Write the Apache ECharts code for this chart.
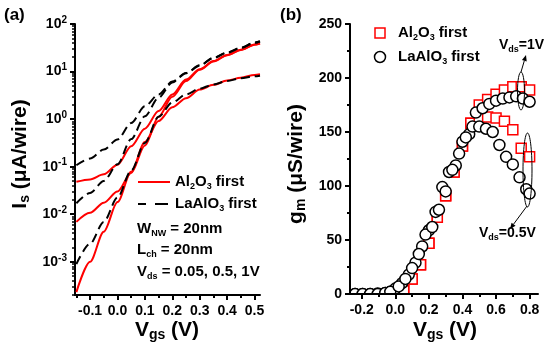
<!DOCTYPE html>
<html>
<head>
<meta charset="utf-8">
<script src="https://cdn.jsdelivr.net/npm/echarts@6/dist/echarts.min.js"></script>
<style>
  html, body { margin: 0; padding: 0; background: #fff; }
  #chart { width: 546px; height: 345px; }
</style>
</head>
<body>
<div id="chart"></div>
<script>
// ---- panel (a): Is vs Vgs, uA/wire (Vds = 1, 0.5, 0.05 V)
const vgsA = [-0.15, -0.1, -0.05, 0, 0.05, 0.1, 0.15, 0.2, 0.25, 0.3, 0.35, 0.4, 0.45, 0.5, 0.52];
const isAl1 = [0.048, 0.054, 0.069, 0.11, 0.27, 0.63, 1.48, 3.3, 6.8, 11.2, 16.6, 22.4, 28.8, 37.2, 39.5];
const isAl05 = [0.0069, 0.0107, 0.0174, 0.030, 0.074, 0.28, 1.12, 2.95, 6.3, 10.9, 16.2, 22.0, 28.5, 36.8, 39.0];
const isAl005 = [0.00023, 0.0010, 0.0043, 0.018, 0.078, 0.33, 0.91, 1.78, 2.75, 4.17, 5.25, 6.46, 7.41, 8.51, 8.8];
const isLa1 = [0.107, 0.148, 0.229, 0.372, 0.83, 1.86, 3.31, 6.17, 9.33, 13.5, 19.5, 25.1, 31.6, 40.7, 43.5];
const isLa05 = [0.017, 0.028, 0.050, 0.112, 0.38, 1.15, 2.82, 5.89, 9.2, 13.3, 19.3, 24.9, 31.4, 40.4, 43.0];
const isLa005 = [0.00089, 0.0024, 0.0069, 0.0224, 0.083, 0.316, 1.12, 2.24, 3.31, 4.37, 5.37, 6.31, 7.24, 7.94, 8.2];

const xMajorA = [-0.1, 0, 0.1, 0.2, 0.3, 0.4, 0.5];
const xMinorA = [-0.15, -0.05, 0.05, 0.15, 0.25, 0.35, 0.45];
const yMajorA = [0.001, 0.01, 0.1, 1, 10, 100];

// ---- panel (b): gm vs Vgs, uS/wire
const vgsSq = [0.05, 0.1, 0.15, 0.2, 0.25, 0.3, 0.35, 0.4, 0.45, 0.5, 0.55, 0.6, 0.65, 0.7, 0.75, 0.8];
const gmAl1 = [3, 14, 27, 47, 71, 91, 113, 137, 158, 175, 180, 185, 189, 192, 192, 189];
const gmAl05 = [3, 14, 27, 47, 71, 91, 113, 137, 158, 163, 164, 163, 160, 152, 135, 127];
const vgsLa1 = [-0.24, -0.195, -0.15, -0.105, -0.06, -0.03, 0, 0.04, 0.08, 0.12, 0.16, 0.2, 0.24, 0.28,
  0.32, 0.36, 0.4, 0.44, 0.48, 0.52, 0.56, 0.6, 0.64, 0.68, 0.72, 0.76, 0.8];
const gmLa1 = [0, 0, 0, 0.5, 1, 2, 5, 10, 18, 29, 44, 59, 76, 99, 113, 119, 141, 148, 168, 172, 176, 179,
  181, 182, 183, 181, 178];
const vgsLa05 = [-0.24, -0.195, -0.15, -0.105, -0.06, -0.03, 0.02, 0.06, 0.1, 0.14, 0.18, 0.22, 0.26, 0.3,
  0.34, 0.38, 0.42, 0.46, 0.5, 0.54, 0.58, 0.62, 0.66, 0.7, 0.74, 0.78, 0.8];
const gmLa05 = [0, 0, 0, 0, 1, 2, 7, 14, 24, 37, 55, 62, 78, 95, 115, 130, 145, 155, 155, 153, 150, 138,
  127, 120, 108, 97, 93];

const xMajorB = [-0.2, 0, 0.2, 0.4, 0.6, 0.8];
const xMinorB = [-0.1, 0.1, 0.3, 0.5, 0.7];

const FONT = '"Liberation Sans", Arial, sans-serif';
const RED = '#ff0000';

// minor log ticks 2..9 x 10^n
const yMinorA = [];
for (let n = -4; n <= 1; n++) {
  for (let k = 2; k <= 9; k++) yMinorA.push(k * Math.pow(10, n));
}

const pairs = (xs, ys) => xs.map((x, i) => [x, ys[i]]);

function lineSeries(name, ys, dashed) {
  return {
    name,
    type: 'line',
    xAxisIndex: 0,
    yAxisIndex: 0,
    data: pairs(vgsA, ys),
    showSymbol: false,
    smooth: 0.3,
    smoothMonotone: 'x',
    lineStyle: dashed
      ? { color: '#000', width: 2, type: [9, 5] }
      : { color: RED, width: 2 },
    z: dashed ? 3 : 2,
  };
}

function scatterSeries(xs, ys, square) {
  return {
    type: 'scatter',
    xAxisIndex: 2,
    yAxisIndex: 2,
    data: pairs(xs, ys),
    symbol: square ? 'rect' : 'circle',
    symbolSize: square ? 10 : 11,
    itemStyle: {
      color: '#fff',
      borderColor: square ? RED : '#000',
      borderWidth: 1.5,
      opacity: 1,
    },
    z: square ? 2 : 3,
    clip: true,
  };
}

// rich text pieces: {n|normal} {s|sub}
function richSet(size, lh, subSize, subLh) {
  return {
    n: { fontFamily: FONT, fontWeight: 'bold', fontSize: size, lineHeight: lh, fill: '#000' },
    s: { fontFamily: FONT, fontWeight: 'bold', fontSize: subSize, lineHeight: subLh, verticalAlign: 'bottom', fill: '#000' },
  };
}

function label(x, y, text, rich, align, rotation) {
  return {
    type: 'text',
    x, y,
    rotation: rotation || 0,
    style: {
      text, rich,
      align: align || 'left', verticalAlign: 'middle',
      textAlign: align || 'left', textVerticalAlign: 'middle',
    },
    z: 10,
  };
}

function arrow(x1, y1, x2, y2) {
  const dx = x2 - x1, dy = y2 - y1;
  const len = Math.sqrt(dx * dx + dy * dy);
  const ux = dx / len, uy = dy / len;
  const bx = x2 - ux * 6, by = y2 - uy * 6;
  return [
    { type: 'line', shape: { x1, y1, x2: bx, y2: by }, style: { stroke: '#000', lineWidth: 1 }, z: 10 },
    {
      type: 'polygon',
      shape: { points: [[x2, y2], [bx - uy * 2.5, by + ux * 2.5], [bx + uy * 2.5, by - ux * 2.5]] },
      style: { fill: '#000' },
      z: 10,
    },
  ];
}

const axisLabelStyle = { fontFamily: FONT, fontWeight: 'bold', fontSize: 14, color: '#000' };
const axisLineStyle = { show: true, onZero: false, lineStyle: { color: '#000', width: 2 } };
const noLine = { show: false, onZero: false };

const legendRich = richSet(15, 18, 9, 7);
const titleRich = richSet(21, 24, 14, 5);
const smallRich = richSet(14, 18, 9, 7);
const tagRich = richSet(17, 20, 9, 7);

const chart = echarts.init(document.getElementById('chart'), null, { renderer: 'canvas' });

chart.setOption({
  animation: false,
  backgroundColor: '#fff',
  grid: [
    { left: 75, top: 24, width: 185, height: 271 },
    { left: 350, top: 24, width: 188, height: 270 },
  ],
  xAxis: [
    {
      gridIndex: 0, type: 'value', min: -0.155, max: 0.52, position: 'bottom',
      axisLine: axisLineStyle,
      axisTick: { show: true, customValues: xMajorA, length: 5, inside: false, lineStyle: { width: 2, color: '#000' } },
      axisLabel: Object.assign({ customValues: xMajorA, margin: 9, formatter: (v) => v.toFixed(1) }, axisLabelStyle),
      splitLine: { show: false },
    },
    {
      gridIndex: 0, type: 'value', min: -0.155, max: 0.52, position: 'bottom', offset: 0,
      axisLine: noLine,
      axisTick: { show: true, customValues: xMinorA, length: 3, inside: false, lineStyle: { width: 2, color: '#000' } },
      axisLabel: { show: false },
      splitLine: { show: false },
    },
    {
      gridIndex: 1, type: 'value', min: -0.27, max: 0.85, position: 'bottom', z: 10,
      axisLine: axisLineStyle,
      axisTick: { show: true, customValues: xMajorB, length: 5, inside: false, lineStyle: { width: 2, color: '#000' } },
      axisLabel: Object.assign({ customValues: xMajorB, margin: 9, formatter: (v) => v.toFixed(1) }, axisLabelStyle),
      splitLine: { show: false },
    },
    {
      gridIndex: 1, type: 'value', min: -0.27, max: 0.85, position: 'bottom', offset: 0, z: 10,
      axisLine: noLine,
      axisTick: { show: true, customValues: xMinorB, length: 3, inside: false, lineStyle: { width: 2, color: '#000' } },
      axisLabel: { show: false },
      splitLine: { show: false },
    },
  ],
  yAxis: [
    {
      gridIndex: 0, type: 'log', logBase: 10, min: 0.0002, max: 100, position: 'left',
      axisLine: axisLineStyle,
      axisTick: { show: true, customValues: yMajorA, length: 5, inside: false, lineStyle: { width: 2, color: '#000' } },
      axisLabel: {
        customValues: yMajorA,
        margin: 8,
        formatter: (v) => '{b|10}{p|' + Math.round(Math.log10(v)) + '}',
        rich: {
          b: { fontFamily: FONT, fontWeight: 'bold', fontSize: 14, lineHeight: 18, color: '#000' },
          p: { fontFamily: FONT, fontWeight: 'bold', fontSize: 10, lineHeight: 12, verticalAlign: 'top', color: '#000' },
        },
      },
      splitLine: { show: false },
    },
    {
      gridIndex: 0, type: 'log', logBase: 10, min: 0.0002, max: 100, position: 'left', offset: 0,
      axisLine: noLine,
      axisTick: { show: true, customValues: yMinorA, length: 3, inside: false, lineStyle: { width: 1.5, color: '#000' } },
      axisLabel: { show: false },
      splitLine: { show: false },
    },
    {
      gridIndex: 1, type: 'value', min: 0, max: 250, interval: 50, position: 'left', z: 10,
      axisLine: axisLineStyle,
      axisTick: { show: true, length: 5, inside: false, lineStyle: { width: 2, color: '#000' } },
      minorTick: { show: true, splitNumber: 2, length: 3, lineStyle: { width: 2, color: '#000' } },
      axisLabel: Object.assign({ margin: 8 }, axisLabelStyle),
      splitLine: { show: false },
    },
  ],
  series: [
    lineSeries('Al2O3 1V', isAl1, false),
    lineSeries('Al2O3 0.5V', isAl05, false),
    lineSeries('Al2O3 0.05V', isAl005, false),
    lineSeries('LaAlO3 1V', isLa1, true),
    lineSeries('LaAlO3 0.5V', isLa05, true),
    lineSeries('LaAlO3 0.05V', isLa005, true),
    scatterSeries(vgsSq, gmAl1, true),
    scatterSeries(vgsSq, gmAl05, true),
    scatterSeries(vgsLa1, gmLa1, false),
    scatterSeries(vgsLa05, gmLa05, false),
  ],
  graphic: [].concat(
    // white band under panel (b) plot area so symbols sitting on 0 are cut at the axis
    { type: 'rect', shape: { x: 340, y: 295, width: 206, height: 7 }, style: { fill: '#fff' }, z: 5 },
    { type: 'rect', shape: { x: 340, y: 20, width: 9, height: 280 }, style: { fill: '#fff' }, z: 5 },
    // panel tags
    label(4, 15, '{n|(a)}', tagRich),
    label(280, 15, '{n|(b)}', tagRich),
    // axis titles
    label(20, 154, '{n|I}{s|s}{n| (μA/wire)}', titleRich, 'center', Math.PI / 2),
    label(167, 330, '{n|V}{s|gs}{n| (V)}', titleRich, 'center'),
    label(296, 164, '{n|g}{s|m}{n| (μS/wire)}', titleRich, 'center', Math.PI / 2),
    label(445, 330, '{n|V}{s|gs}{n| (V)}', titleRich, 'center'),
    // legend (a)
    { type: 'line', shape: { x1: 138, y1: 182, x2: 170, y2: 182 }, style: { stroke: RED, lineWidth: 2 }, z: 10 },
    { type: 'line', shape: { x1: 138, y1: 204, x2: 146, y2: 204 }, style: { stroke: '#000', lineWidth: 2 }, z: 10 },
    { type: 'line', shape: { x1: 155, y1: 204, x2: 168, y2: 204 }, style: { stroke: '#000', lineWidth: 2 }, z: 10 },
    label(175, 182, '{n|Al}{s|2}{n|O}{s|3}{n| first}', legendRich),
    label(175, 204, '{n|LaAlO}{s|3}{n| first}', legendRich),
    label(137, 229, '{n|W}{s|NW}{n| = 20nm}', legendRich),
    label(137, 250, '{n|L}{s|ch}{n| = 20nm}', legendRich),
    label(137, 272, '{n|V}{s|ds}{n| = 0.05, 0.5, 1V}', legendRich),
    // legend (b)
    { type: 'rect', shape: { x: 375, y: 28, width: 10, height: 10 }, style: { fill: '#fff', stroke: RED, lineWidth: 1.5 }, z: 10 },
    { type: 'circle', shape: { cx: 380, cy: 57, r: 5.5 }, style: { fill: '#fff', stroke: '#000', lineWidth: 1.5 }, z: 10 },
    label(398, 33, '{n|Al}{s|2}{n|O}{s|3}{n| first}', legendRich),
    label(398, 57, '{n|LaAlO}{s|3}{n| first}', legendRich),
    // annotations (b)
    { type: 'ellipse', shape: { cx: 521, cy: 91, rx: 3.5, ry: 19 }, style: { fill: 'none', stroke: '#000', lineWidth: 1 }, z: 10 },
    { type: 'ellipse', shape: { cx: 527.5, cy: 170, rx: 4.5, ry: 37 }, style: { fill: 'none', stroke: '#000', lineWidth: 1 }, z: 10 },
    arrow(521, 72, 526, 55),
    arrow(527, 206, 510, 229),
    label(499, 45, '{n|V}{s|ds}{n|=1V}', smallRich),
    label(479, 233, '{n|V}{s|ds}{n|=0.5V}', smallRich)
  ),
});
</script>
</body>
</html>
